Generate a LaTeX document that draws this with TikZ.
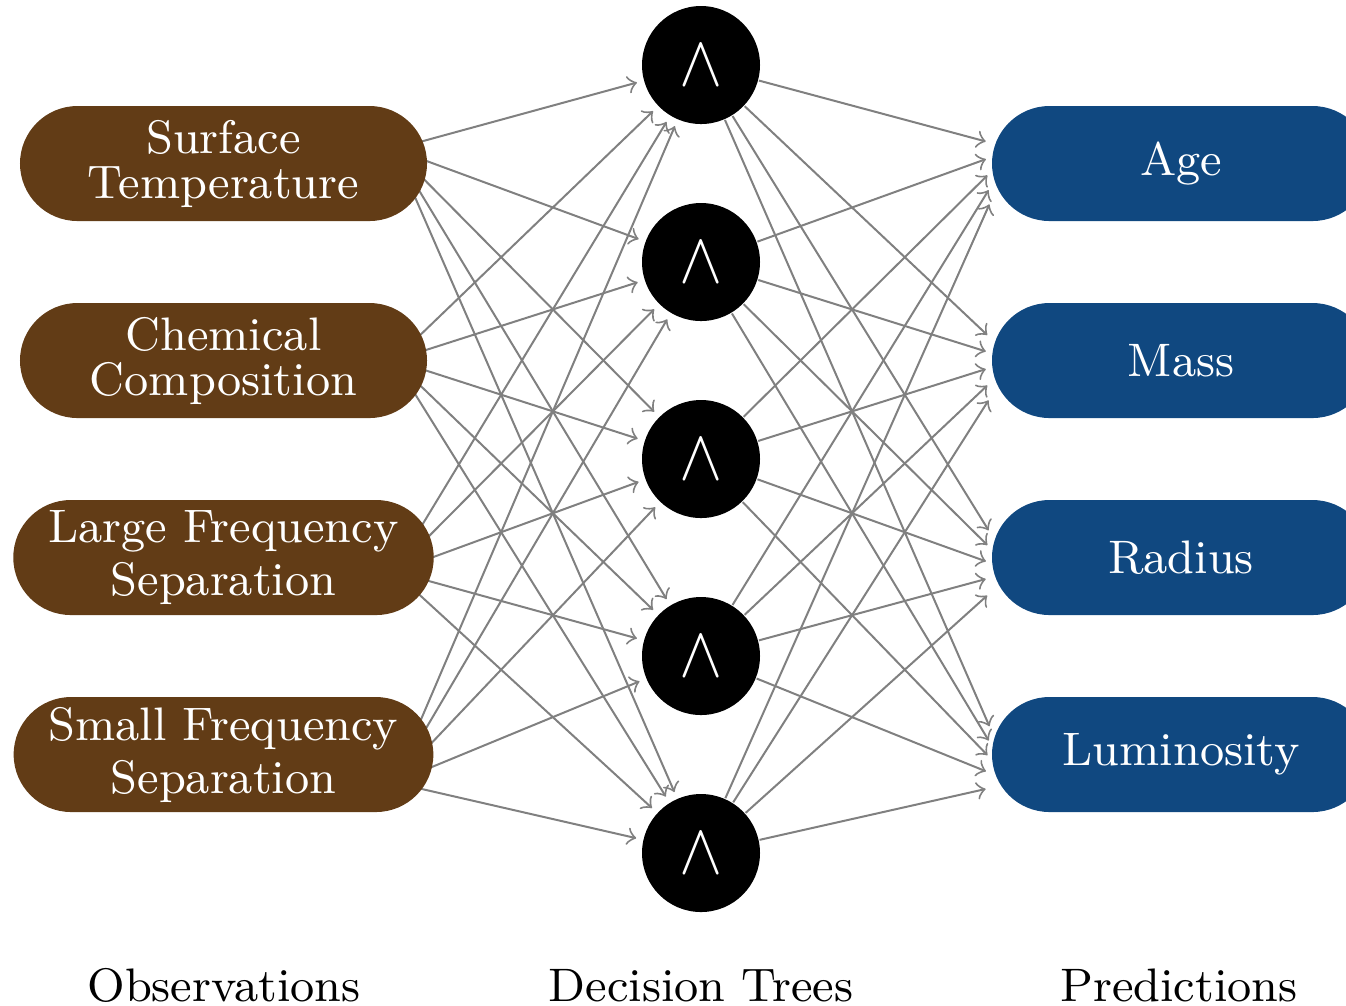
\documentclass[tikz,border=0pt]{standalone}
\usepackage{graphicx}
\definecolor{obsbrown}{RGB}{98,60,22}
\definecolor{predblue}{RGB}{16,72,128}
\definecolor{edgegray}{RGB}{128,128,128}
\begin{document}
\begin{tikzpicture}[x=0.2pt,y=-0.2pt,
  lbl/.style={text=white, font=\fontsize{9.4pt}{10.6pt}\selectfont, align=center,
    minimum height=23pt, rounded corners=11.5pt, inner xsep=7pt, inner ysep=0pt},
  obs/.style={lbl, fill=obsbrown, minimum width=81.4pt},
  pred/.style={lbl, fill=predblue, minimum width=75.6pt},
  tree/.style={circle, fill=black, minimum size=23.6pt, inner sep=0pt, text=white,
    font=\fontsize{15.2pt}{16pt}\selectfont},
  port/.style={rectangle, minimum width=8.4pt, minimum height=28pt, inner sep=0pt},
  edge/.style={->, draw=edgegray, line width=0.4pt, shorten >=1.3pt},
  caption/.style={anchor=base, font=\fontsize{9.4pt}{11pt}\selectfont}]
\clip (0,0) rectangle (1346,1005);
% connection points inside the observation boxes
\coordinate (s1) at (394,149);
\coordinate (s2) at (394,360.2);
\coordinate (s3) at (394,571.4);
\coordinate (s4) at (394,782.6);
% decision trees
\node[tree] (h1) at (701,65)  {\scalebox{0.9}[1]{$\wedge$}};
\node[tree] (h2) at (701,262) {\scalebox{0.9}[1]{$\wedge$}};
\node[tree] (h3) at (701,459) {\scalebox{0.9}[1]{$\wedge$}};
\node[tree] (h4) at (701,656) {\scalebox{0.9}[1]{$\wedge$}};
\node[tree] (h5) at (701,853) {\scalebox{0.9}[1]{$\wedge$}};
% connection ports of the predictions
\node[port] (t1) at (1014,149) {};
\node[port] (t2) at (1014,360.2) {};
\node[port] (t3) at (1014,571.4) {};
\node[port] (t4) at (1014,782.6) {};
% connectors
\foreach \i in {1,...,4}{
  \foreach \j in {1,...,5}{
    \draw[edge] (s\i) -- (h\j);
  }
}
\foreach \j in {1,...,5}{
  \foreach \k in {1,...,4}{
    \draw[edge] (h\j) -- (t\k);
  }
}
% observations
\node[obs] (o1) at (223.5,163.5) {Surface\\[-1.6pt]Temperature};
\node[obs] (o2) at (223.5,360.5) {Chemical\\[-1.6pt]Composition};
\node[obs] (o3) at (223.5,557.5) {Large Frequency\\Separation};
\node[obs] (o4) at (223.5,754.5) {Small Frequency\\Separation};
% predictions
\node[pred] (p1) at (1181,163.5) {Age};
\node[pred] (p2) at (1181,360.5) {Mass};
\node[pred] (p3) at (1181,557.5) {Radius};
\node[pred] (p4) at (1181,754.5) {Luminosity};
% captions
\node[caption] (c1) at (224,1001) {Observations};
\node[caption] (c2) at (701,1001) {Decision Trees};
\node[caption] (c3) at (1179,1001) {Predictions};
\end{tikzpicture}
\end{document}
